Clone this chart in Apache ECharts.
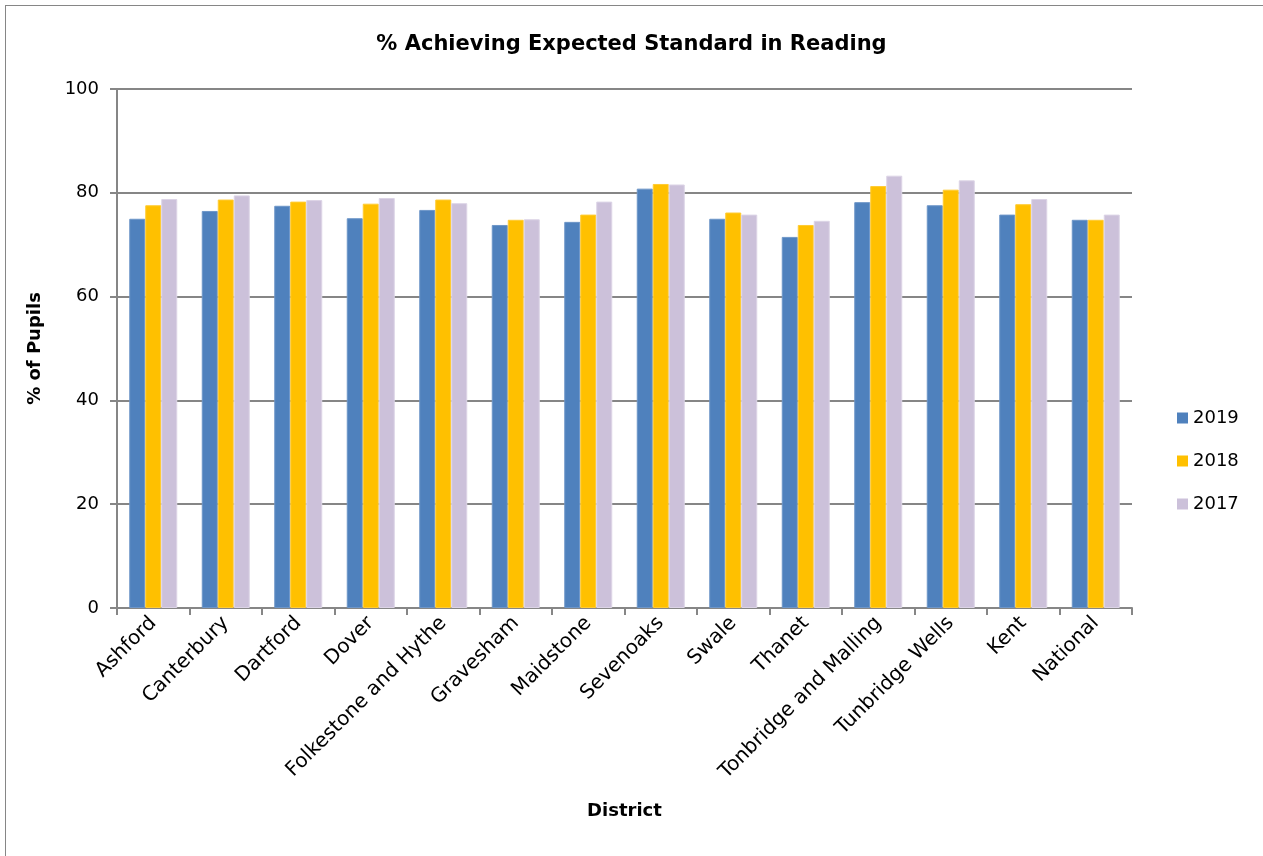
<!DOCTYPE html>
<html>
<head>
<meta charset="utf-8">
<script src="https://cdn.jsdelivr.net/npm/echarts@6/dist/echarts.min.js"></script>
<style>
  html, body { margin: 0; padding: 0; background: #fff; }
  #main { width: 1263px; height: 856px; }
  #frame { position: absolute; left: 5px; top: 5px; width: 1300px; height: 900px; border: 1px solid #868686; pointer-events: none; }
</style>
</head>
<body>
<div id="main"></div>
<div id="frame"></div>
<script>
const districts = ['Ashford', 'Canterbury', 'Dartford', 'Dover', 'Folkestone and Hythe', 'Gravesham',
  'Maidstone', 'Sevenoaks', 'Swale', 'Thanet', 'Tonbridge and Malling', 'Tunbridge Wells', 'Kent', 'National']
const values2019 = [75.0, 76.5, 77.5, 75.1, 76.7, 73.8, 74.4, 80.8, 75.0, 71.5, 78.2, 77.6, 75.8, 74.8]
const values2018 = [77.6, 78.7, 78.3, 77.9, 78.7, 74.8, 75.8, 81.7, 76.2, 73.8, 81.3, 80.6, 77.8, 74.8]
const values2017 = [78.8, 79.5, 78.6, 79.0, 78.0, 74.9, 78.3, 81.6, 75.8, 74.6, 83.3, 82.4, 78.8, 75.8]

const font = 'DejaVu Sans'
const gridGrey = '#868686'

var chartDom = document.getElementById('main')
var myChart = echarts.init(chartDom, null, { renderer: 'canvas' })

function barSeries(name, data, color, edge) {
  return {
    name: name,
    type: 'bar',
    data: data,
    barWidth: 16,
    barGap: '0%',
    itemStyle: { color: color, borderColor: edge, borderWidth: 1 }
  }
}

var option = {
  backgroundColor: '#fff',
  animation: false,
  title: {
    text: '% Achieving Expected Standard in Reading',
    left: 'center',
    top: 29,
    textStyle: { fontFamily: font, fontSize: 21, fontWeight: 'bold', color: '#000' }
  },
  legend: {
    orient: 'vertical',
    left: 1177,
    top: 409,
    padding: 0,
    itemWidth: 11,
    itemHeight: 11,
    itemGap: 25,
    icon: 'rect',
    itemStyle: { borderWidth: 0 },
    textStyle: { fontFamily: font, fontSize: 18, color: '#000' },
    data: ['2019', '2018', '2017']
  },
  grid: { left: 117, right: 131, top: 89, bottom: 248, containLabel: false },
  xAxis: {
    type: 'category',
    data: districts,
    name: 'District',
    nameLocation: 'middle',
    nameGap: 194,
    nameTextStyle: { fontFamily: font, fontSize: 18, fontWeight: 'bold', color: '#000' },
    axisLine: { lineStyle: { color: gridGrey, width: 2 } },
    axisTick: { show: true, length: 7, lineStyle: { color: gridGrey, width: 2 } },
    axisLabel: { rotate: 45, fontFamily: font, fontSize: 20, color: '#000', margin: 12, interval: 0 }
  },
  yAxis: {
    type: 'value',
    min: 0,
    max: 100,
    interval: 20,
    name: '% of Pupils',
    nameLocation: 'middle',
    nameGap: 73,
    nameTextStyle: { fontFamily: font, fontSize: 18, fontWeight: 'bold', color: '#000' },
    axisLine: { show: true, lineStyle: { color: gridGrey, width: 2 } },
    axisTick: { show: true, length: 7, lineStyle: { color: gridGrey, width: 2 } },
    axisLabel: { fontFamily: font, fontSize: 18, color: '#000', margin: 18 },
    splitLine: { lineStyle: { color: gridGrey, width: 2 } }
  },
  series: [
    barSeries('2019', values2019, '#4F81BD', '#6E96C8'),
    barSeries('2018', values2018, '#FFC000', '#FFCB33'),
    barSeries('2017', values2017, '#CCC1DA', '#DCD4E6')
  ]
}

myChart.setOption(option)
</script>
</body>
</html>
